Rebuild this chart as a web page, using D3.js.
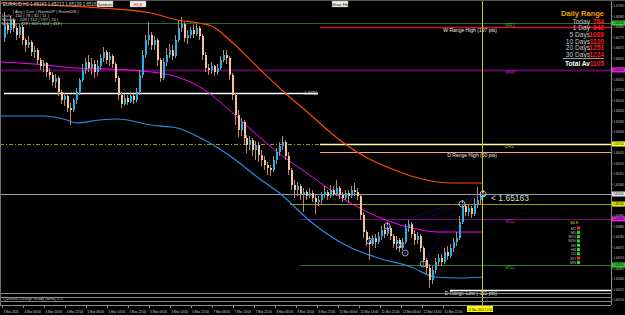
<!DOCTYPE html>
<html>
<head>
<meta charset="utf-8">
<script src="https://cdn.jsdelivr.net/npm/d3@7"></script>
<style>
  body { margin: 0; background: #000; overflow: hidden; }
  svg { display: block; font-family: "Liberation Sans", Arial, sans-serif; }
</style>
</head>
<body>
<svg width="625" height="315"></svg>
<script>
// ---- data (EURAUD H1) ----
const firstOpen = 1.6677;
const closes = [
  1.6690,1.6685,1.6695,1.6687,1.6680,1.6688,1.6675,1.6670,1.6673,1.6663,
  1.6665,1.6655,1.6649,1.6652,1.6643,1.6640,1.6633,1.6637,1.6623,1.6615,
  1.6619,1.6607,1.6605,1.6615,1.6623,1.6635,1.6645,1.6653,1.6647,1.6651,
  1.6643,1.6649,1.6657,1.6663,1.6655,1.6659,1.6651,1.6637,1.6620,1.6611,
  1.6617,1.6613,1.6619,1.6615,1.6623,1.6640,1.6660,1.6675,1.6680,1.6670,
  1.6675,1.6655,1.6637,1.6653,1.6660,1.6665,1.6659,1.6675,1.6687,1.6691,
  1.6677,1.6680,1.6685,1.6681,1.6687,1.6679,1.6660,1.6647,1.6645,1.6649,
  1.6643,1.6647,1.6655,1.6660,1.6657,1.6640,1.6620,1.6600,1.6585,1.6593,
  1.6577,1.6570,1.6575,1.6565,1.6570,1.6560,1.6555,1.6550,1.6547,1.6545,
  1.6555,1.6563,1.6569,1.6573,1.6559,1.6545,1.6530,1.6525,1.6529,1.6521,
  1.6523,1.6519,1.6522,1.6517,1.6513,1.6515,1.6520,1.6523,1.6519,1.6525,
  1.6521,1.6527,1.6520,1.6517,1.6522,1.6519,1.6525,1.6523,1.6519,1.6500,
  1.6483,1.6475,1.6471,1.6477,1.6473,1.6479,1.6485,1.6481,1.6487,1.6479,
  1.6471,1.6475,1.6467,1.6473,1.6487,1.6491,1.6481,1.6475,1.6479,1.6467,
  1.6455,1.6447,1.6435,1.6445,1.6453,1.6457,1.6453,1.6463,1.6459,1.6467,
  1.6473,1.6477,1.6493,1.6509,1.6503,1.6507,1.6501,1.6511,1.6515,1.6519,
  1.6521
];
const highs = [
  1.6703,1.6693,1.6699,1.6697,1.6689,1.6691,1.6690,1.6677,1.6679,1.6675,
  1.6669,1.6667,1.6657,1.6655,1.6653,1.6647,1.6643,1.6641,1.6639,1.6625,
  1.6622,1.6620,1.6612,1.6617,1.6627,1.6637,1.6651,1.6657,1.6660,1.6657,
  1.6655,1.6655,1.6661,1.6668,1.6665,1.6663,1.6661,1.6653,1.6639,1.6623,
  1.6621,1.6620,1.6623,1.6621,1.6627,1.6645,1.6665,1.6680,1.6693,1.6683,
  1.6679,1.6677,1.6657,1.6657,1.6667,1.6671,1.6670,1.6680,1.6695,1.6698,
  1.6693,1.6685,1.6688,1.6690,1.6691,1.6689,1.6681,1.6663,1.6651,1.6653,
  1.6650,1.6651,1.6659,1.6665,1.6665,1.6659,1.6642,1.6622,1.6605,1.6597,
  1.6595,1.6580,1.6579,1.6577,1.6574,1.6573,1.6565,1.6559,1.6553,1.6550,
  1.6559,1.6567,1.6573,1.6579,1.6575,1.6563,1.6547,1.6535,1.6533,1.6531,
  1.6527,1.6525,1.6527,1.6525,1.6521,1.6519,1.6523,1.6529,1.6525,1.6530,
  1.6529,1.6535,1.6529,1.6523,1.6525,1.6525,1.6529,1.6532,1.6527,1.6521,
  1.6503,1.6485,1.6479,1.6480,1.6481,1.6483,1.6489,1.6491,1.6493,1.6489,
  1.6481,1.6479,1.6477,1.6477,1.6491,1.6495,1.6493,1.6485,1.6483,1.6481,
  1.6469,1.6457,1.6451,1.6449,1.6457,1.6461,1.6461,1.6467,1.6469,1.6471,
  1.6477,1.6483,1.6499,1.6515,1.6511,1.6511,1.6509,1.6517,1.6528,1.6523,
  1.6525
];
const lows = [
  1.6673,1.6681,1.6682,1.6683,1.6675,1.6677,1.6670,1.6663,1.6667,1.6659,
  1.6657,1.6651,1.6645,1.6643,1.6638,1.6635,1.6629,1.6627,1.6619,1.6611,
  1.6609,1.6603,1.6590,1.6603,1.6611,1.6620,1.6633,1.6641,1.6643,1.6640,
  1.6637,1.6639,1.6645,1.6653,1.6651,1.6649,1.6647,1.6633,1.6615,1.6607,
  1.6609,1.6610,1.6612,1.6611,1.6613,1.6620,1.6637,1.6657,1.6670,1.6665,
  1.6665,1.6649,1.6633,1.6635,1.6649,1.6657,1.6655,1.6657,1.6673,1.6683,
  1.6673,1.6671,1.6677,1.6677,1.6679,1.6675,1.6655,1.6643,1.6640,1.6641,
  1.6639,1.6640,1.6645,1.6653,1.6651,1.6635,1.6615,1.6590,1.6578,1.6579,
  1.6570,1.6562,1.6565,1.6559,1.6555,1.6553,1.6549,1.6545,1.6540,1.6539,
  1.6543,1.6551,1.6559,1.6565,1.6555,1.6540,1.6525,1.6517,1.6519,1.6515,
  1.6503,1.6515,1.6517,1.6513,1.6501,1.6509,1.6511,1.6517,1.6515,1.6517,
  1.6519,1.6519,1.6516,1.6513,1.6515,1.6512,1.6517,1.6519,1.6515,1.6495,
  1.6477,1.6469,1.6455,1.6469,1.6467,1.6471,1.6475,1.6477,1.6479,1.6475,
  1.6467,1.6465,1.6463,1.6465,1.6471,1.6483,1.6477,1.6470,1.6471,1.6463,
  1.6449,1.6441,1.6427,1.6431,1.6441,1.6449,1.6449,1.6451,1.6455,1.6457,
  1.6463,1.6469,1.6475,1.6491,1.6499,1.6499,1.6497,1.6499,1.6507,1.6511,
  1.6518
];

// moving averages, sampled at bar indices
const orangeBars = [-1, 15, 32, 49, 58, 65, 70, 75, 85, 95, 99, 113, 122, 128, 136, 149, 160];
const orangeVals = [1.6712,1.6710,1.6707,1.6702,1.6695,1.6692,1.6688,1.6676,1.6647,1.6619,1.6609,1.6573,1.6556,1.6548,1.6539,1.6532,1.6532];
const magentaBars = [-1, 10, 24, 35, 46, 58, 68, 76, 90, 103, 114, 125, 135, 145, 160];
const magentaVals = [1.6653,1.6651,1.6647,1.6646,1.6644,1.6638,1.6623,1.6603,1.6566,1.6538,1.6515,1.6498,1.6488,1.6483,1.6483];
const blueBars = [-1, 13, 21, 24, 32, 38, 49, 58, 65, 76, 85, 92, 103, 114, 125, 136, 144, 152, 160];
const blueVals = [1.6599,1.6599,1.6595,1.6592,1.6595,1.6596,1.6590,1.6587,1.6578,1.6558,1.6537,1.6522,1.6492,1.6470,1.6457,1.6448,1.6438,1.6437,1.6438];

// horizontal levels
const levelNames  = ["WR1", "WRH", "WPP", "PREV", "DR1", "DRH", "BID", "DPP", "WS1", "WS2", "DRL"];
const levelPrices = [1.6692, 1.6688, 1.6645, 1.6622, 1.6571, 1.6563, 1.6521, 1.6511, 1.6496, 1.6450, 1.6425];
const levelTexts  = ["WR1", "W Range High (197 pts)", "WPP", "1.6651", "DR1", "D Range High (50 pts)", "", "", "WS1", "WS2", "D Range Low (-111 pts)"];

// zigzag pattern points
const patternBars = [122, 128, 132, 134, 140, 153, 160];
const patternVals = [1.6474, 1.6489, 1.6470, 1.6462, 1.6451, 1.6511, 1.6521];
const patternLinks = [[0, 5], [1, 6], [4, 5], [5, 6]];

// daily range panel
const rangeLabels = ["Today", "1 Day", "5 Days", "10 Days", "20 Days", "30 Days"];
const rangeValues = [784, 842, 1089, 1120, 1253, 1224];
const rangeAverage = 1105;

// legend lines
const headerText = "EURAUD,H1  1.65183 1.65213 1.65139 1.65163";
const statRows = ["| Avg | Curr | RoomUP | RoomDN |", "Daily :  110 | 78 | 32 | 11 |", "Weekly :  209 | 112 | 197 | 20 |", "Monthly :  428 | 303 | 604 | 418 |"];

// time axis
const timeLabels = ["3 Mar 2024", "4 Mar 06:00", "4 Mar 14:00", "4 Mar 22:00", "5 Mar 06:00", "5 Mar 14:00",
  "5 Mar 22:00", "6 Mar 06:00", "6 Mar 14:00", "6 Mar 22:00", "7 Mar 06:00", "7 Mar 14:00", "7 Mar 22:00",
  "8 Mar 06:00", "8 Mar 14:00", "8 Mar 22:00", "11 Mar 06:00", "11 Mar 14:00", "11 Mar 22:00",
  "12 Mar 06:00", "12 Mar 14:00", "12 Mar 22:00"];
const currentTime = "13 Mar 2024 12:00";
const bidText = "< 1.65163";

// multi timeframe signals
const tfLabels = ["M1", "M5", "M15", "M30", "H1", "H4", "D1", "W1", "MN"];
const tfSignals = [-1, 1, 1, 1, 1, 1, 1, -1, 1];
const tfScore = "34.8";

// ---- drawing ----
const svg = d3.select("svg");
const plotR = 611, plotB = 305;

const x = d3.scaleLinear().domain([0, closes.length - 1]).range([4, 483]);
const y = d3.scaleLinear().domain([1.6410, 1.6712]).range([305, 3]);

svg.append("rect").attr("width", 625).attr("height", 315).attr("fill", "#000");

const levelStyle = {
  WR1:  {c: "#2c6a2c", w: 1, x0: 0, tag: "#33cc33"},
  WRH:  {c: "#d3122e", w: 1.5, x0: 320},
  WPP:  {c: "#5c0c5c", w: 2, x0: 0, tag: "#e020e0"},
  PREV: {c: "#ffffff", w: 1.5, x0: 4, x1: 318},
  DR1:  {c: "#ffffa0", w: 1.5, x0: 320, tag: "#ffff33"},
  DRH:  {c: "#ff9c8c", w: 1, x0: 320},
  BID:  {c: "#9c9c9c", w: 1, x0: 0, tag: "#e8e8e8"},
  DPP:  {c: "#9c9c00", w: 1, x0: 290, tag: "#e6e600"},
  WS1:  {c: "#720f72", w: 1, x0: 300, tag: "#e020e0"},
  WS2:  {c: "#2a7a2a", w: 1, x0: 300, tag: "#33cc33"},
  DRL:  {c: "#ffffff", w: 1.5, x0: 450}
};

const levels = levelNames.map((n, i) => ({n, p: levelPrices[i], t: levelTexts[i], s: levelStyle[n]}));

const gLev = svg.append("g");
// dash-dot extension of DR1 to the left
gLev.append("line")
  .attr("x1", 0).attr("x2", 320)
  .attr("y1", Math.round(y(levelPrices[4])) + 0.5).attr("y2", Math.round(y(levelPrices[4])) + 0.5)
  .attr("stroke", "#9a9a00").attr("stroke-dasharray", "4,2,1,2");

gLev.selectAll("line.lv").data(levels).join("line")
  .attr("class", "lv")
  .attr("x1", d => d.s.x0).attr("x2", d => d.s.x1 || plotR)
  .attr("y1", d => Math.round(y(d.p)) + 0.5).attr("y2", d => Math.round(y(d.p)) + 0.5)
  .attr("stroke", d => d.s.c).attr("stroke-width", d => d.s.w);

// small level names
const shortNames = ["WR1", "WPP", "DR1", "WS1", "WS2"];
gLev.selectAll("text.ln").data(levels.filter(d => shortNames.includes(d.n))).join("text")
  .attr("class", "ln")
  .attr("x", 505).attr("y", d => y(d.p) + 4)
  .attr("font-size", 4.5).attr("fill", d => d.s.tag === "#ffff33" ? "#dddd80" : d.s.tag)
  .attr("opacity", 0.8)
  .text(d => d.t);
gLev.selectAll("text.lt").data(levels.filter(d => d.n === "WRH" || d.n === "DRH" || d.n === "DRL")).join("text")
  .attr("class", "lt")
  .attr("x", 497).attr("y", d => y(d.p) + 5).attr("text-anchor", "end")
  .attr("font-size", 5).attr("fill", "#e8e8e8")
  .text(d => d.t);
gLev.append("text").attr("x", 318).attr("y", y(levelPrices[3]) + 2)
  .attr("text-anchor", "end").attr("font-size", 4.5).attr("fill", "#bbb").text(levelTexts[3]);

// moving averages
const ma = (bars, vals) => bars.map((b, i) => [x(b), y(vals[i])]);
const line = d3.line().curve(d3.curveMonotoneX);
svg.append("path").attr("d", line(ma(blueBars, blueVals))).attr("fill", "none").attr("stroke", "#2b8be6").attr("stroke-width", 1.2);
svg.append("path").attr("d", line(ma(magentaBars, magentaVals))).attr("fill", "none").attr("stroke", "#ff00ff").attr("stroke-width", 1);
svg.append("path").attr("d", line(ma(orangeBars, orangeVals))).attr("fill", "none").attr("stroke", "#ff4a00").attr("stroke-width", 1.2);

// candles
const bars = closes.map((c, i) => {
  const o = i ? closes[i - 1] : firstOpen;
  return {i, o, c, h: Math.max(highs[i], o, c), l: Math.min(lows[i], o, c)};
});
const gC = svg.append("g").attr("shape-rendering", "crispEdges");
gC.selectAll("rect.wick").data(bars).join("rect")
  .attr("class", "wick")
  .attr("x", d => Math.round(x(d.i))).attr("width", 1)
  .attr("y", d => y(d.h)).attr("height", d => y(d.l) - y(d.h))
  .attr("fill", "#b88a6e");
gC.selectAll("rect.body").data(bars).join("rect")
  .attr("class", "body")
  .attr("x", d => Math.round(x(d.i)) - 0.5).attr("width", 2)
  .attr("y", d => y(Math.max(d.o, d.c)))
  .attr("height", d => Math.max(1, Math.abs(y(d.o) - y(d.c))))
  .attr("fill", d => d.c >= d.o ? "#1fb4f0" : "#f9c39a");

// vertical current-time line
svg.append("line").attr("x1", 482.5).attr("x2", 482.5).attr("y1", 0).attr("y2", plotB)
  .attr("stroke", "#c8c800").attr("stroke-width", 1);

// pattern lines & markers
const pts = patternBars.map((b, i) => [x(b), y(patternVals[i])]);
svg.append("g").selectAll("line").data(patternLinks).join("line")
  .attr("x1", d => pts[d[0]][0]).attr("y1", d => pts[d[0]][1])
  .attr("x2", d => pts[d[1]][0]).attr("y2", d => pts[d[1]][1])
  .attr("stroke", "#2f2fd8").attr("stroke-dasharray", "1,1.5").attr("stroke-width", 0.8);
const gM = svg.append("g").selectAll("g").data(pts).join("g").attr("transform", d => `translate(${d[0]},${d[1]})`);
gM.append("circle").attr("r", 3).attr("fill", "none").attr("stroke", "#e0e0e0").attr("stroke-width", 0.7);
gM.append("circle").attr("r", 1).attr("fill", "#2f2fd8");

// bid text
svg.append("text").attr("x", 491).attr("y", y(closes[closes.length - 1]) + 7)
  .attr("font-size", 8.5).attr("fill", "#d8d8d8").text(bidText);

// right axis
const gAx = svg.append("g").attr("transform", `translate(${plotR},0)`);
gAx.append("line").attr("x1", 0.5).attr("x2", 0.5).attr("y1", 0).attr("y2", plotB).attr("stroke", "#8c8c8c");
const yTicks = d3.range(1.6415, 1.6712, 0.00105);
gAx.selectAll("text.tk").data(yTicks).join("text")
  .attr("class", "tk").attr("x", 2.5).attr("y", d => y(d) + 1.3)
  .attr("font-size", 3.6).attr("fill", "#c8c8c8")
  .attr("textLength", 10.5).attr("lengthAdjust", "spacingAndGlyphs")
  .text(d => d3.format(".5f")(d));
gAx.selectAll("line.tk").data(yTicks).join("line")
  .attr("class", "tk").attr("x1", 0).attr("x2", 1.5).attr("y1", d => y(d)).attr("y2", d => y(d)).attr("stroke", "#8c8c8c");
const tagged = levels.filter(d => d.s.tag);
const tagG = gAx.selectAll("g.tag").data(tagged).join("g").attr("class", "tag")
  .attr("transform", d => `translate(1,${y(d.p)})`);
tagG.append("rect").attr("x", 0).attr("y", -2.5).attr("width", 13).attr("height", 5).attr("fill", d => d.s.tag);
tagG.append("text").attr("x", 1.2).attr("y", 1.3).attr("font-size", 3.6).attr("fill", "#000")
  .attr("textLength", 10.5).attr("lengthAdjust", "spacingAndGlyphs")
  .text(d => d3.format(".5f")(d.p));

// time axis
svg.append("line").attr("x1", 0).attr("x2", plotR).attr("y1", plotB + 0.5).attr("y2", plotB + 0.5).attr("stroke", "#8c8c8c");
const tx = d3.scalePoint().domain(timeLabels).range([2, 443]);
const gT = svg.append("g").selectAll("g").data(timeLabels).join("g").attr("transform", d => `translate(${tx(d)},${plotB})`);
gT.append("line").attr("x1", 0.5).attr("x2", 0.5).attr("y1", 1).attr("y2", 3).attr("stroke", "#8c8c8c");
gT.append("text").attr("x", 1.5).attr("y", 7.5).attr("font-size", 3.8).attr("fill", "#d0d0d0")
  .attr("textLength", d => d.length * 1.5).attr("lengthAdjust", "spacingAndGlyphs").text(d => d);
svg.append("rect").attr("x", 467).attr("y", 306).attr("width", 26).attr("height", 6).attr("fill", "#ffff00");
svg.append("text").attr("x", 468).attr("y", 310.6).attr("font-size", 3.8).attr("fill", "#000")
  .attr("textLength", 24).attr("lengthAdjust", "spacingAndGlyphs").text(currentTime);

// bottom status lines
svg.append("g").selectAll("line").data([293, 297, 301]).join("line")
  .attr("x1", 0).attr("x2", plotR).attr("y1", d => d + 0.5).attr("y2", d => d + 0.5)
  .attr("stroke", "#8a8a8a").attr("stroke-width", 1);
svg.append("text").attr("x", 3).attr("y", 300).attr("font-size", 4.2).attr("fill", "#bdbdbd").text("Quantal Charge ready (beta) v.1");

// left border
svg.append("line").attr("x1", 0.5).attr("x2", 0.5).attr("y1", 0).attr("y2", plotB).attr("stroke", "#707070");
svg.append("rect").attr("width", 625).attr("height", 1).attr("fill", "#555");

// top-left legend
svg.append("text").attr("x", 3).attr("y", 5.5).attr("font-size", 4.5).attr("fill", "#d0d0d0").text(headerText);
svg.append("g").selectAll("text").data(statRows).join("text")
  .attr("x", (d, i) => i ? 2 : 13).attr("y", (d, i) => 13 + i * 4)
  .attr("font-size", 4.3).attr("fill", "#d0d0d0").text(d => d);

// buttons
const buttons = [["Symbols", 97, "#222"], ["HIDE", 130, "#e02020"], ["Show Fib", 332, "#222"]];
const gB = svg.append("g").selectAll("g").data(buttons).join("g").attr("transform", d => `translate(${d[1]},1)`);
gB.append("rect").attr("width", 16).attr("height", 6).attr("fill", "#f2efe2").attr("stroke", "#999").attr("stroke-width", 0.4);
gB.append("text").attr("x", 8).attr("y", 4.5).attr("text-anchor", "middle").attr("font-size", 3.8).attr("fill", d => d[2]).text(d => d[0]);

// daily range panel
const gR = svg.append("g").attr("font-weight", "bold");
gR.append("text").attr("x", 604).attr("y", 16).attr("text-anchor", "end").attr("font-size", 7.5).attr("fill", "#f0a000").text("Daily Range");
gR.selectAll("text.rl").data(rangeLabels).join("text").attr("class", "rl")
  .attr("x", 590).attr("y", (d, i) => 23.5 + i * 6.7).attr("text-anchor", "end")
  .attr("font-size", 6.6).attr("font-weight", "normal").attr("fill", "#c8c8c8").text(d => d);
gR.selectAll("text.rv").data(rangeValues).join("text").attr("class", "rv")
  .attr("x", 604).attr("y", (d, i) => 23.5 + i * 6.7).attr("text-anchor", "end")
  .attr("font-size", 6.6).attr("fill", "#ff1a1a").text(d => d);
gR.append("line").attr("x1", 563).attr("x2", 604).attr("y1", 58.5).attr("y2", 58.5).attr("stroke", "#9a9a9a");
gR.append("text").attr("x", 590).attr("y", 65.5).attr("text-anchor", "end").attr("font-size", 6.6).attr("fill", "#ffffff").text("Total Av");
gR.append("text").attr("x", 604).attr("y", 65.5).attr("text-anchor", "end").attr("font-size", 6.6).attr("fill", "#ff1a1a").text(rangeAverage);

// multi timeframe signal panel
const gS = svg.append("g").attr("transform", "translate(566,221)");
gS.append("text").attr("x", 4).attr("y", 3).attr("font-size", 4.2).attr("fill", "#f0d000").text(tfScore);
const sg = gS.selectAll("g").data(tfLabels).join("g").attr("transform", (d, i) => `translate(0,${6 + i * 4.3})`);
sg.append("text").attr("x", 10).attr("y", 2.5).attr("text-anchor", "end").attr("font-size", 3.8).attr("fill", "#bbb").text(d => d);
sg.append("rect").attr("x", 11).attr("y", -0.5).attr("width", 3).attr("height", 3)
  .attr("fill", (d, i) => tfSignals[i] > 0 ? "#22dd22" : "#ff2222");
</script>
</body>
</html>
